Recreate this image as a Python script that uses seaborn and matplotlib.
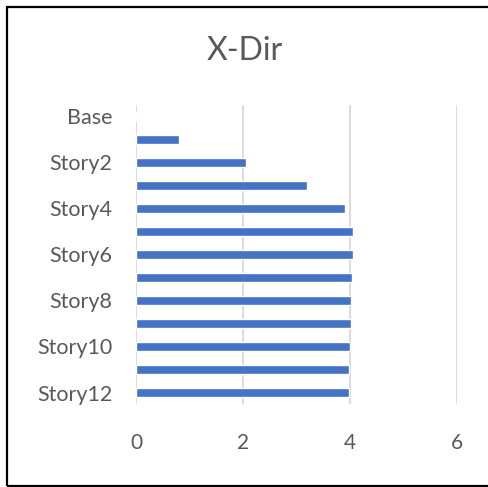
import numpy as np
import pandas as pd
import seaborn as sns
import matplotlib.pyplot as plt
from matplotlib.patches import Rectangle

# dados
stories = ["Base"] + ["Story%d" % i for i in range(1, 13)]
drift = [0.0, 0.81, 2.06, 3.20, 3.91, 4.06, 4.06, 4.04, 4.02, 4.02, 4.00, 3.99, 3.99]
tick_labels = ["Base", "Story2", "Story4", "Story6", "Story8", "Story10", "Story12"]
x_ticks = [0, 2, 4, 6]

df = pd.DataFrame({"story": stories, "drift": drift})

sns.set_style("white")
plt.rcParams["font.family"] = ["Lato", "DejaVu Sans"]

fig = plt.figure(figsize=(4.89, 4.87), dpi=100)
ax = fig.add_axes([136 / 489, 1 - 404 / 487, (457 - 136) / 489, (404 - 105) / 487])

sns.barplot(data=df, y="story", x="drift", orient="h", color="#4472C4",
            width=0.36, saturation=1, ax=ax)

ax.set_xlim(0, 6)
ax.set_ylim(12.5, -0.5)
ax.set_xticks(x_ticks)
ax.set_yticks(np.arange(0, 13, 2))
ax.set_yticklabels(tick_labels)
ax.set_xlabel("")
ax.set_ylabel("")
ax.xaxis.grid(True, color="#d9d9d9", linewidth=1.3)
ax.set_axisbelow(True)
for s in ax.spines.values():
    s.set_visible(False)
ax.tick_params(axis="x", length=0, pad=21, labelsize=15, labelcolor="#595959")
ax.tick_params(axis="y", length=0, pad=17, labelsize=15.5, labelcolor="#595959")

fig.text(0.5, 1 - 51 / 487, "X-Dir", ha="center", va="center",
         fontsize=23, color="#595959")

# moldura preta da figura (lado direito fica fora da imagem)
fig.patches.append(Rectangle((7 / 489, 1 / 487), 1.1, 479 / 487,
                             transform=fig.transFigure, fill=False,
                             edgecolor="black", linewidth=1.6))

fig.savefig("out.png", dpi=100)
